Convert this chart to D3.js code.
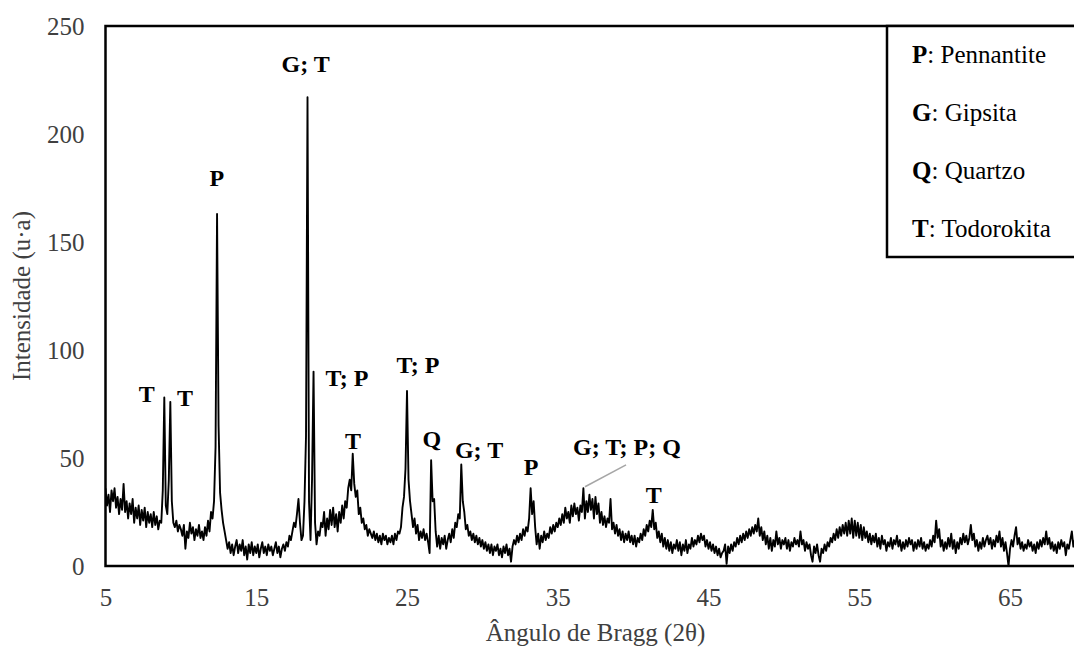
<!DOCTYPE html>
<html><head><meta charset="utf-8">
<script src="https://cdn.jsdelivr.net/npm/d3@7"></script>
<style>body{margin:0;background:#fff}svg{display:block}text,tspan{font-family:'Liberation Serif','Times New Roman',serif}</style>
</head><body><svg id="c" width="1074" height="650"></svg>
<script>
// Diffractogram intensities (u.a.), step 0.1 degrees 2θ, one array per 5 degrees
const angleStep = 0.1;
const seg05 = [36,28,33,25,35,30,36,27,32,24, 31,26,38,25,30,22,29,24,31,20, 27,22,28,19,26,21,27,18,25,20, 24,18,25,19,23,17,21,20,35,78, 28,24,40,76,30,20,18,21,16,19];
const seg10 = [17,14,19,8,16,13,20,15,18,12, 17,14,19,13,16,12,18,14,21,16, 25,22,30,55,163,65,34,26,20,16, 12,8,11,6,10,5,9,12,6,10, 7,12,5,9,3,10,6,11,5,9];
const seg15 = [6,10,4,8,11,6,9,5,10,7, 9,5,8,11,6,9,4,8,10,7, 11,9,14,12,16,20,18,24,31,20, 12,14,30,60,217,30,12,40,90,20, 10,16,14,20,18,25,14,22,17,26];
const seg20 = [19,27,18,24,16,25,20,28,22,30, 27,36,40,35,52,38,32,35,24,27, 20,22,17,19,14,17,15,13,16,12, 15,11,14,10,15,12,14,10,13,11, 14,10,15,12,16,15,18,27,32,45];
const seg25 = [81,40,30,24,18,22,15,19,12,16, 13,17,12,15,11,6,49,30,31,16, 9,14,8,13,10,14,8,12,15,11, 17,13,20,18,24,22,47,30,25,17, 19,14,16,12,15,11,14,10,13,9];
const seg30 = [12,8,11,7,10,6,10,5,9,7, 10,5,8,4,9,6,10,5,8,2, 9,12,10,14,11,15,12,17,14,18, 16,22,36,24,30,18,10,15,8,14, 11,16,12,15,13,18,15,19,16,20];
const seg35 = [18,22,19,24,20,27,22,25,20,28, 23,29,24,27,21,28,25,36,22,30, 25,33,26,31,22,32,24,29,20,25, 19,23,18,22,20,31,17,20,15,19, 14,17,12,16,11,15,12,16,11,14];
const seg40 = [10,14,9,13,11,15,12,17,14,19, 16,21,18,26,17,20,13,16,11,15, 9,13,8,12,7,11,6,10,8,12, 7,11,5,10,7,12,6,10,8,13, 9,12,10,14,11,15,12,14,9,12];
const seg45 = [8,11,7,10,6,9,5,8,4,6, 7,10,1,9,6,10,7,11,9,13, 10,14,11,15,12,16,13,17,14,18, 15,19,16,22,14,18,12,16,10,14, 8,13,7,12,9,16,10,13,8,12];
const seg50 = [10,13,8,12,7,11,9,13,10,12, 9,16,10,12,7,11,8,10,5,2, 9,6,10,5,2,8,6,10,7,11, 9,13,11,15,12,17,13,18,14,19, 15,20,14,21,15,22,13,21,14,20];
const seg55 = [13,19,12,18,13,16,11,15,10,14, 11,15,9,13,8,14,10,12,7,11, 9,13,8,12,10,14,9,12,7,11, 8,12,9,13,10,12,7,11,8,12, 9,13,8,11,7,10,8,12,9,14];
const seg60 = [11,21,13,17,9,12,7,11,8,13, 9,15,8,12,6,11,8,13,10,15, 11,14,10,13,19,12,15,9,12,7, 11,8,13,9,12,14,10,13,8,12, 9,14,11,16,9,13,7,11,6,0];
const seg65 = [8,12,9,14,18,10,13,8,11,7, 10,8,12,9,11,7,10,6,11,8, 12,9,13,10,16,10,13,8,11,7, 10,6,11,8,12,9,11,5,10,8, 12,16,9,12,8,11,7,10,9,12,10];
const segStarts = [5,10,15,20,25,30,35,40,45,50,55,60,65];
const segValues = [seg05,seg10,seg15,seg20,seg25,seg30,seg35,seg40,seg45,seg50,seg55,seg60,seg65];

const xTicks = [5,15,25,35,45,55,65];
const yTicks = [0,50,100,150,200,250];

const peakLabels  = ["T","T","P","G; T","T; P","T","T; P","Q","G; T","P","G; T; P; Q","T"];
const labelAngles = [7.73,10.27,12.38,18.28,21.02,21.42,25.73,26.64,29.78,33.23,39.59,41.37];
const labelLevels = [75.9,74.1,175.7,228.9,83.3,54.2,89.4,55.1,50.0,42.1,51.4,29.2];
const leaderAngles = [39.53,36.81];
const leaderLevels = [46.8,36.7];

const legendCodes = ["P","G","Q","T"];
const legendNames = ["Pennantite","Gipsita","Quartzo","Todorokita"];

const xTitle = "Ângulo de Bragg (2θ)";
const yTitle = "Intensidade (u·a)";

// ---------------------------------------------------------------
const data = [];
segValues.forEach((arr, k) => arr.forEach((v, i) => data.push({a: +(segStarts[k] + i*angleStep).toFixed(2), v})));

const L = 105.5, T = 26, B = 566, R = 1085.4;
const x = d3.scaleLinear().domain([5,70]).range([L,R]);
const y = d3.scaleLinear().domain([0,250]).range([B,T]);
const svg = d3.select("#c");
const serif = "'Liberation Serif','Times New Roman',serif";

svg.append("clipPath").attr("id","plot").append("rect")
  .attr("x",L).attr("y",T).attr("width",R-L).attr("height",B-T);

svg.append("path").datum(data)
  .attr("clip-path","url(#plot)")
  .attr("fill","none").attr("stroke","#000").attr("stroke-width",1.9)
  .attr("stroke-linejoin","round")
  .attr("d", d3.line().x(d=>x(d.a)).y(d=>y(d.v)));

// frame
const frame = svg.append("g").attr("stroke","#000").attr("stroke-width",2.5).attr("fill","none");
frame.append("rect").attr("x",L).attr("y",T).attr("width",R-L).attr("height",B-T);

// axes (labels only)
const xAxis = svg.append("g").attr("transform",`translate(0,${B})`)
  .call(d3.axisBottom(x).tickValues(xTicks).tickSize(0).tickPadding(22).tickFormat(d3.format("d")));
xAxis.select(".domain").remove();
xAxis.attr("font-family",serif);
xAxis.selectAll("text").attr("font-family",serif).attr("font-size",25).attr("fill","#404040");

const yAxis = svg.append("g").attr("transform",`translate(${L},0)`)
  .call(d3.axisLeft(y).tickValues(yTicks).tickSize(0).tickPadding(21).tickFormat(d3.format("d")));
yAxis.select(".domain").remove();
yAxis.attr("font-family",serif);
yAxis.selectAll("text").attr("font-family",serif).attr("font-size",25).attr("fill","#404040");

svg.append("text").attr("x",(L+R)/2).attr("y",641).attr("text-anchor","middle")
  .attr("font-family",serif).attr("font-size",25).attr("fill","#404040").text(xTitle);
svg.append("text").attr("transform",`translate(30,${(T+B)/2}) rotate(-90)`).attr("text-anchor","middle")
  .attr("font-family",serif).attr("font-size",25).attr("fill","#404040").text(yTitle);

// leader line
svg.append("line")
  .attr("x1",x(leaderAngles[0])).attr("y1",y(leaderLevels[0]))
  .attr("x2",x(leaderAngles[1])).attr("y2",y(leaderLevels[1]))
  .attr("stroke","#a6a6a6").attr("stroke-width",1.5);

// peak labels
svg.append("g").selectAll("text").data(peakLabels).join("text")
  .attr("x",(d,i)=>x(labelAngles[i])).attr("y",(d,i)=>y(labelLevels[i]))
  .attr("text-anchor","middle").attr("font-family",serif).attr("font-weight","bold")
  .attr("font-size",24).attr("fill","#000").text(d=>d);

// legend
svg.append("rect").attr("x",887).attr("y",T).attr("width",300).attr("height",231)
  .attr("fill","#fff").attr("stroke","#000").attr("stroke-width",2.5);
const leg = svg.append("g").attr("font-family",serif).selectAll("text").data(legendCodes).join("text")
  .attr("x",912).attr("y",(d,i)=>63+i*58)
  .attr("font-family",serif).attr("font-size",25).attr("fill","#000");
leg.append("tspan").attr("font-family",serif).attr("font-weight","bold").text(d=>d);
leg.append("tspan").attr("font-family",serif).text((d,i)=>": "+legendNames[i]);
</script></body></html>
